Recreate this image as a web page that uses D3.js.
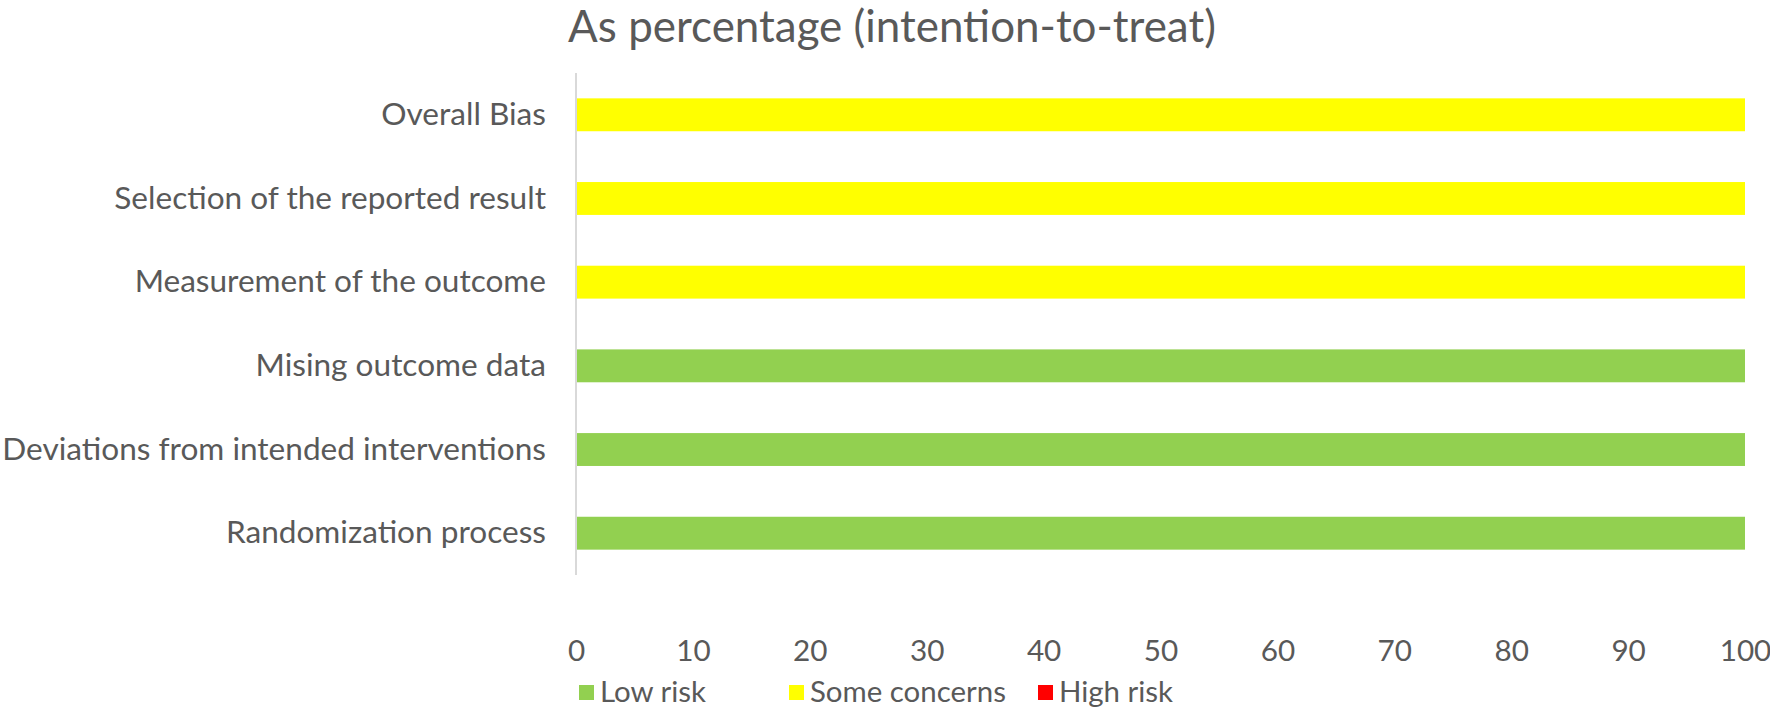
<!DOCTYPE html>
<html>
<head>
<meta charset="utf-8">
<script src="https://cdn.jsdelivr.net/npm/d3@7"></script>
<style>
  html, body { margin: 0; padding: 0; background: #ffffff; }
  svg { display: block; font-family: Lato, "Open Sans", sans-serif; }
</style>
</head>
<body>
<svg id="chart" width="1770" height="713"></svg>
<script>
// ---- data ----
const title = "As percentage (intention-to-treat)";
const categories = [
  "Overall Bias",
  "Selection of the reported result",
  "Measurement of the outcome",
  "Mising outcome data",
  "Deviations from intended interventions",
  "Randomization process"
];
const lowRisk       = [0, 0, 0, 100, 100, 100];
const someConcerns  = [100, 100, 100, 0, 0, 0];
const highRisk      = [0, 0, 0, 0, 0, 0];
const seriesNames   = ["Low risk", "Some concerns", "High risk"];
const seriesColors  = ["#92d050", "#ffff00", "#ff0000"];
const xTicks        = [0, 10, 20, 30, 40, 50, 60, 70, 80, 90, 100];

// ---- layout ----
const svg = d3.select("#chart");
const M = { left: 576, right: 1745, top: 73, bottom: 575 };
const textColor = "#595959";

// fit font size so a string reaches a target width
function fitSize(str, target, base) {
  const t = svg.append("text").attr("font-size", base).text(str);
  const w = t.node().getComputedTextLength();
  t.remove();
  return base * target / w;
}
const labelSize = fitSize("Deviations from intended interventions", 544, 27);
const tickSize = labelSize * 0.94;
const legendSize = fitSize("Some concerns", 196, 27);
const titleSize = fitSize(title, 648, 40);

const x = d3.scaleLinear().domain([0, 100]).range([M.left, M.right]);
const y = d3.scaleBand().domain(categories).range([M.top, M.bottom])
  .paddingInner(0.607).paddingOuter(0.303);

const seriesData = [lowRisk, someConcerns, highRisk];
const rows = categories.map((c, i) => {
  const r = { cat: c };
  seriesNames.forEach((s, j) => r[s] = seriesData[j][i]);
  return r;
});
const stacked = d3.stack().keys(seriesNames)(rows);

// title
svg.append("text")
  .attr("x", 892).attr("y", 42)
  .attr("text-anchor", "middle")
  .attr("fill", textColor)
  .attr("font-size", titleSize)
  .text(title);

// bars
svg.append("g").selectAll("g")
  .data(stacked).join("g")
  .attr("fill", (d, i) => seriesColors[i])
  .selectAll("rect")
  .data(d => d).join("rect")
  .attr("x", d => x(d[0]))
  .attr("y", d => y(d.data.cat))
  .attr("width", d => x(d[1]) - x(d[0]))
  .attr("height", y.bandwidth());

// vertical axis line
svg.append("line")
  .attr("x1", M.left).attr("x2", M.left)
  .attr("y1", M.top).attr("y2", M.bottom)
  .attr("stroke", "#d9d9d9").attr("stroke-width", 2);

// y axis labels
const yAxis = d3.axisLeft(y).tickSize(0).tickPadding(30);
const gy = svg.append("g").attr("transform", `translate(${M.left},0)`).call(yAxis);
gy.select(".domain").remove();
gy.selectAll("text").attr("font-size", labelSize).attr("fill", textColor)
  .attr("font-family", "Lato, 'Open Sans', sans-serif");

// x axis labels
const xAxis = d3.axisBottom(x).tickValues(xTicks).tickSize(0).tickPadding(0);
const gx = svg.append("g").attr("transform", `translate(0,651)`).call(xAxis);
gx.select(".domain").remove();
gx.selectAll("text").attr("font-size", tickSize).attr("fill", textColor)
  .attr("dy", "0.35em")
  .attr("font-family", "Lato, 'Open Sans', sans-serif");

// legend
const legendX = [579, 789, 1038];
const lg = svg.append("g");
seriesNames.forEach((s, i) => {
  lg.append("rect").attr("x", legendX[i]).attr("y", 685).attr("width", 15).attr("height", 15)
    .attr("fill", seriesColors[i]);
  lg.append("text").attr("x", legendX[i] + 21).attr("y", 692).attr("dy", "0.35em")
    .attr("font-size", legendSize).attr("fill", textColor).text(s);
});
</script>
</body>
</html>
